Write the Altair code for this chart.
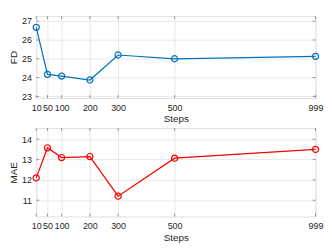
import altair as alt
import pandas as pd

steps = [10, 50, 100, 200, 300, 500, 999]
fd = [26.67, 24.17, 24.08, 23.87, 25.2, 25.0, 25.13]
mae = [12.1, 13.58, 13.1, 13.15, 11.2, 13.07, 13.5]
x_ticks = [10, 50, 100, 200, 300, 500, 999]
fd_ticks = [23, 24, 25, 26, 27]
mae_ticks = [11, 12, 13, 14]

W = 297
FONT = "Liberation Sans Narrow, Liberation Sans"
TXT = "#262626"
EDGE = "#8c8c8c"


def panel(values, name, color, yticks, ydom, H):
    df = pd.DataFrame({"Steps": steps, name: values})
    xs = alt.Scale(domain=[10, 999], nice=False, zero=False)
    ys = alt.Scale(domain=ydom, nice=False, zero=False)
    xaxis = alt.Axis(values=x_ticks, title="Steps", labelFlush=False, labelOverlap=False,
                     ticks=False, domain=False, grid=True, gridColor="#e6e6e6",
                     labelPadding=5, titlePadding=3, labelFontSize=9.5, titleFontSize=10.5,
                     labelFont=FONT, titleFont=FONT, labelColor=TXT, titleColor=TXT,
                     titleFontWeight="normal")
    yaxis = alt.Axis(values=yticks, title=name, ticks=False, domain=False, grid=True,
                     gridColor="#e6e6e6", labelPadding=5, titlePadding=3,
                     labelFontSize=9.5, titleFontSize=10.5, labelFont=FONT, titleFont=FONT,
                     labelColor=TXT, titleColor=TXT, titleFontWeight="normal")
    base = alt.Chart(df).encode(
        x=alt.X("Steps:Q", scale=xs, axis=xaxis),
        y=alt.Y(f"{name}:Q", scale=ys, axis=yaxis),
    )
    line = base.mark_line(color=color, strokeWidth=1.3)
    pts = base.mark_point(shape="circle", filled=False, color=color, size=42, strokeWidth=1.3, opacity=1)

    xt = pd.DataFrame({"Steps": x_ticks})
    yt = pd.DataFrame({name: yticks})
    xb = alt.Chart(xt).mark_rule(color=EDGE, strokeWidth=1).encode(
        x=alt.X("Steps:Q", scale=xs, axis=xaxis), y=alt.value(H), y2=alt.value(H - 3))
    xtp = alt.Chart(xt).mark_rule(color=EDGE, strokeWidth=1).encode(
        x=alt.X("Steps:Q", scale=xs, axis=xaxis), y=alt.value(0), y2=alt.value(3))
    yl = alt.Chart(yt).mark_rule(color=EDGE, strokeWidth=1).encode(
        y=alt.Y(f"{name}:Q", scale=ys, axis=yaxis), x=alt.value(0), x2=alt.value(3))
    yr = alt.Chart(yt).mark_rule(color=EDGE, strokeWidth=1).encode(
        y=alt.Y(f"{name}:Q", scale=ys, axis=yaxis), x=alt.value(W), x2=alt.value(W - 3))
    return alt.layer(line, pts, xb, xtp, yl, yr).properties(width=W, height=H)


top = panel(fd, "FD", "#0072BD", fd_ticks, [22.915, 27.265], 87)
bot = panel(mae, "MAE", "#FF0000", mae_ticks, [10.2, 14.55], 94)

chart = alt.vconcat(top, bot, spacing=32, bounds="flush").properties(
    padding={"left": 0, "top": 0, "right": 0, "bottom": 0}
).configure_view(stroke=EDGE, strokeWidth=1).configure(background="white")

chart.save("out.html", embed_options={"renderer": "svg", "actions": False})
